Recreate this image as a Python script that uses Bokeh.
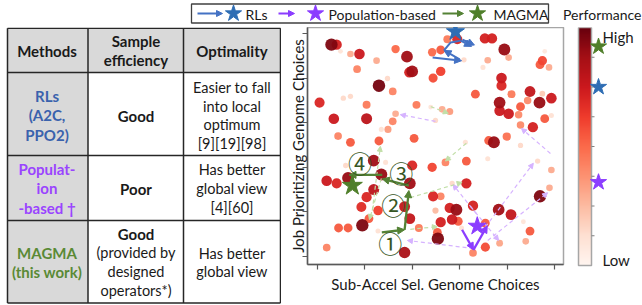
import numpy as np
from bokeh.plotting import figure
from bokeh.models import (ColumnDataSource, Range1d, FixedTicker, Arrow, NormalHead,
                          LinearColorMapper, LinearInterpolator)
from bokeh.layouts import column, row
from bokeh.palettes import Reds256
from bokeh.transform import transform
from bokeh.core.properties import value
from bokeh.embed import file_html
from bokeh.resources import INLINE

FONT = "Lato"

# ---------------- table content ----------------
table_headers = ["Methods", "Sample\nefficiency", "Optimality"]
table_methods = ["RLs\n(A2C,\nPPO2)", "Populat-\nion\n-based †", "MAGMA\n(this work)"]
method_colors = ["#3a62ad", "#9a44ff", "#5a8a35"]
table_efficiency = ["Good", "Poor", "Good"]
table_efficiency_note = ["", "", "(provided by\ndesigned\noperators*)"]
table_optimality = ["Easier to fall\ninto local\noptimum\n[9][19][98]",
                    "Has better\nglobal view\n[4][60]",
                    "Has better\nglobal view"]

# ---------------- scatter data (genome choice indices, performance 0..1) ----------------
pts_x = [0.41, 0.30, 0.49, 0.70, 0.89, 1.25, 1.65, 1.89, 0.84, 1.94, 2.00, 1.48, 1.30, 1.59, 0.05,
         0.55, 0.70, 1.04, 2.09, 2.39, 1.65, 0.35, 1.04, 1.59, 1.49, 1.35, 0.44, 0.70, 1.30, 2.04,
         2.95, 2.74, 2.42, 2.60, 3.53, 3.68, 3.94, 4.03, 3.59, 3.49, 4.79, 4.74, 4.69, 4.88, 3.09,
         2.60, 2.44, 3.88, 3.88, 3.33, 4.09, 4.48, 4.74, 4.93, 4.43, 4.68, 3.84, 3.84, 4.03, 4.28,
         4.24, 4.79, 4.93, 4.28, 4.54, 3.99, 3.72, 3.61, 2.63, 2.79, 2.49, 3.12, 4.28, 1.19, 0.60,
         1.44, 2.00, 0.65, 1.35, 0.20, 0.41, 1.19, 1.04, 0.93, 1.95, 1.84, 1.95, 1.28, 1.09, 0.95,
         0.45, 0.65, 0.20, 1.28, 1.84, 2.14, 3.59, 2.70, 3.14, 4.64, 4.93, 2.42, 3.14, 2.84, 4.89,
         4.69, 2.44, 2.60, 2.49, 2.79, 2.93, 2.84, 2.97, 3.28, 3.82, 4.08, 3.54, 3.04, 2.60, 2.53,
         2.54, 4.48, 4.34, 4.39, 3.84, 3.54, 3.28]
pts_y = [4.75, 4.75, 4.60, 4.54, 4.54, 4.39, 4.65, 4.48, 4.20, 4.13, 4.15, 3.99, 3.83, 3.70, 3.45,
         3.55, 3.59, 3.40, 3.40, 3.35, 3.20, 3.09, 3.09, 3.03, 2.85, 2.85, 2.70, 2.56, 2.59, 2.65,
         4.87, 4.87, 4.58, 4.63, 4.89, 4.89, 4.64, 4.46, 4.40, 4.24, 4.60, 4.39, 4.30, 4.24, 4.41,
         4.15, 4.00, 4.00, 3.83, 3.64, 3.64, 3.70, 3.65, 3.55, 3.50, 3.45, 3.45, 3.27, 3.20, 3.36,
         3.18, 3.09, 3.16, 2.95, 2.90, 2.69, 2.56, 2.60, 3.30, 3.25, 3.05, 2.56, 2.49, 2.15, 2.04,
         2.11, 2.04, 1.76, 1.84, 1.70, 1.64, 1.50, 1.33, 1.11, 1.64, 1.12, 0.85, 1.03, 0.85, 0.70,
         0.64, 0.64, 0.20, 0.57, 0.09, 0.64, 2.19, 2.11, 2.14, 2.14, 1.94, 2.00, 1.64, 1.64, 1.54,
         1.35, 1.35, 1.35, 1.03, 1.09, 1.05, 0.83, 0.79, 1.14, 1.05, 0.94, 0.75, 0.64, 0.77, 0.54,
         0.40, 0.57, 0.78, 0.34, 0.30, 0.21, 0.08]
pts_perf = [0.72, 0.95, 0.10, 0.30, 0.75, 0.30, 0.50, 0.88, 0.42, 0.72, 0.88, 0.15, 0.97, 0.42, 0.70,
            0.15, 0.15, 0.45, 0.45, 0.10, 0.30, 0.75, 0.80, 0.42, 0.35, 0.12, 0.42, 0.55, 0.55, 0.55,
            0.70, 0.45, 0.50, 0.55, 0.72, 0.72, 0.90, 0.30, 0.30, 0.12, 0.08, 0.60, 0.55, 0.30, 0.15,
            0.62, 0.58, 0.75, 0.70, 0.55, 0.45, 0.78, 0.20, 0.75, 0.40, 0.90, 0.88, 0.75, 0.75, 0.55,
            0.40, 0.55, 0.12, 0.40, 0.72, 0.48, 0.90, 0.55, 0.30, 0.35, 0.15, 0.12, 0.15, 0.88, 0.15,
            0.12, 0.70, 0.90, 0.90, 0.75, 0.70, 0.80, 0.70, 0.68, 0.88, 0.78, 0.78, 0.62, 0.55, 0.95,
            0.55, 0.55, 0.42, 0.12, 0.85, 0.45, 0.12, 0.42, 0.55, 0.15, 0.30, 0.60, 0.72, 0.15, 0.30,
            0.95, 0.70, 0.42, 0.25, 0.72, 0.90, 0.75, 0.55, 0.72, 0.88, 0.78, 0.55, 0.12, 0.72, 0.55,
            0.95, 0.55, 0.10, 0.30, 0.32, 0.58, 0.42]

# search trajectories (segments: start x/y -> end x/y)
rl_x0 = [2.43, 3.00, 3.02, 3.06]
rl_y0 = [4.46, 4.42, 4.84, 4.86]
rl_x1 = [3.04, 2.67, 3.25, 3.31]
rl_y1 = [4.39, 4.62, 4.71, 4.74]
rl_curve_x = [2.67, 2.81, 3.02]
rl_curve_y = [4.62, 4.80, 4.84]

pop_x0 = [3.05, 3.29]
pop_y0 = [0.60, 0.15]
pop_x1 = [3.29, 3.58]
pop_y1 = [0.15, 0.69]

magma_x0 = [1.36, 1.84, 1.93, 1.37]
magma_y0 = [0.54, 0.60, 1.59, 1.83]
magma_x1 = [1.84, 1.93, 1.37, 0.67]
magma_y1 = [0.60, 1.48, 1.74, 1.83]
step_labels = ["①", "②", "③", "④"]
step_x = [1.54, 1.60, 1.77, 0.90]
step_y = [0.32, 1.17, 1.89, 2.11]

pop_faint_x0 = [2.49, 3.29, 4.91, 3.54, 3.59, 3.35, 3.23]
pop_faint_y0 = [3.03, 0.18, 2.31, 0.66, 0.36, 0.96, 1.12]
pop_faint_x1 = [1.75, 1.90, 4.30, 4.55, 4.85, 2.86, 3.82]
pop_faint_y1 = [3.18, 0.36, 2.87, 2.09, 1.43, 1.61, 0.36]

magma_faint_x0 = [1.16, 1.35, 1.96, 1.96, 3.14, 2.39]
magma_faint_y0 = [1.03, 1.75, 1.32, 0.61, 2.54, 3.36]
magma_faint_x1 = [1.33, 1.10, 3.05, 2.53, 2.70, 2.76]
magma_faint_y1 = [2.47, 0.83, 1.66, 0.67, 2.14, 3.21]

# best solution of each method (x, y, performance)
star_names = ["RLs", "Population-based", "MAGMA"]
star_x = [2.91, 3.37, 0.74]
star_y = [5.04, 0.68, 1.59]
star_perf = [0.75, 0.35, 0.92]
star_colors = ["#2e6db4", "#8b3dff", "#4f7f2a"]
line_colors = ["#4472c4", "#8b3dff", "#548235"]

axis_ticks = [0, 1, 2, 3, 4, 5]
cbar_ticks = [0.125, 0.25, 0.375, 0.5, 0.625, 0.75, 0.875]

# ---------------- shared color mapping ----------------
palette = list(reversed(Reds256))
mapper = LinearColorMapper(palette=palette, low=0, high=1)
size_map = LinearInterpolator(x=[0, 1], y=[4, 12.8])


def bare(width, height, xr, yr, **kw):
    p = figure(width=width, height=height, x_range=xr, y_range=yr, output_backend="svg",
               toolbar_location=None, x_axis_type=None, y_axis_type=None, **kw)
    p.outline_line_color = None
    p.grid.visible = False
    p.frame_align = False
    return p


def add_arrows(p, x0, y0, x1, y1, color, width, dash="solid", head=7, alpha=1.0):
    src = ColumnDataSource(dict(x0=x0, y0=y0, x1=x1, y1=y1))
    end = NormalHead(size=head, fill_color=color, line_color=color, line_width=1,
                     fill_alpha=alpha, line_alpha=alpha) if head else None
    p.add_layout(Arrow(end=end, x_start="x0", y_start="y0", x_end="x1", y_end="y1",
                       source=src, line_color=color, line_width=width, line_dash=dash,
                       line_alpha=alpha))


# ---------------- legend strip (page y 0..27) ----------------
leg = bare(642, 27, Range1d(0, 642), Range1d(27, 0), min_border=0)
leg.quad(left=[191], right=[548], top=[3.5], bottom=[22.5], fill_color="white",
         line_color="#404040", line_width=1.3)
leg_arrow_x0 = [197, 278, 442]
leg_arrow_x1 = [222, 294, 463]
leg_star_x = [233, 315, 477]
leg_text_x = [245, 328, 493]
for i in range(3):
    add_arrows(leg, [leg_arrow_x0[i]], [13], [leg_arrow_x1[i]], [13], line_colors[i], 1.8, head=6)
leg.scatter(x=leg_star_x, y=[13, 13, 13], marker="star", size=17, fill_color=star_colors,
            line_color=star_colors)
leg.text(x=leg_text_x, y=[13.5, 13.5, 13.5], text=star_names, text_font=value(FONT),
         text_font_size="14px", text_baseline="middle", text_align="left", text_color="#1a1a1a")
leg.text(x=[641], y=[13.5], text=["Performance"], text_font=value(FONT), text_font_size="14px",
         text_baseline="middle", text_align="right", text_color="#1a1a1a")

# ---------------- table (page x 0..281, y 27..305; fig y = 305 - page y) ----------------
tab = bare(281, 278, Range1d(0, 281), Range1d(0, 278), min_border=0)
col_edges = [7, 87.5, 183, 280]
row_edges = [277.2, 233, 150, 85, 2.5]
tab.quad(left=[col_edges[0]], right=[col_edges[3]], top=[row_edges[0]], bottom=[row_edges[1]],
         fill_color="#d9d9d9", line_color=None)
tab.quad(left=[col_edges[0]], right=[col_edges[1]], top=[row_edges[1]], bottom=[row_edges[4]],
         fill_color="#d9d9d9", line_color=None)
tab.segment(x0=col_edges, x1=col_edges, y0=[row_edges[0]] * 4, y1=[row_edges[4]] * 4,
            line_color="#262626", line_width=1.5)
tab.segment(x0=[col_edges[0]] * 5, x1=[col_edges[3]] * 5, y0=row_edges, y1=row_edges,
            line_color="#262626", line_width=1.5)
col_c = [46.5, 135.5, 231.5]
row_c = [255, 190, 117, 43]
bstyle = dict(text_font=value(FONT), text_font_size="15px", text_align="center",
              text_baseline="middle", text_line_height=1.06, text_font_style="bold")
nstyle = dict(text_font=value(FONT), text_font_size="14.5px", text_align="center",
              text_baseline="middle", text_line_height=1.09, text_color="#1a1a1a")
tab.text(x=col_c, y=[row_c[0]] * 3, text=table_headers, text_color="#1a1a1a", **bstyle)
tab.text(x=[col_c[0]] * 3, y=row_c[1:], text=table_methods, text_color=method_colors, **bstyle)
tab.text(x=[col_c[1]] * 3, y=[row_c[1], row_c[2], 72], text=table_efficiency,
         text_color="#1a1a1a", **bstyle)
tab.text(x=[col_c[1]], y=[34], text=[table_efficiency_note[2]], **nstyle)
tab.text(x=[col_c[2]] * 3, y=row_c[1:], text=table_optimality, **nstyle)

# ---------------- scatter (page x 281..570, y 27..305) ----------------
order = np.argsort(np.array(pts_perf), kind="stable")
src = ColumnDataSource(dict(x=np.array(pts_x)[order], y=np.array(pts_y)[order],
                            perf=np.array(pts_perf)[order]))
p = figure(width=289, height=278, x_range=Range1d(-0.204, 5.185), y_range=Range1d(-0.179, 5.134),
           output_backend="svg", toolbar_location=None,
           min_border_left=26, min_border_right=7, min_border_top=0, min_border_bottom=41)
p.frame_align = False
p.grid.visible = False
p.outline_line_color = "#a6a6a6"
p.outline_line_width = 1.5
for ax in (p.xaxis, p.yaxis):
    ax.ticker = FixedTicker(ticks=axis_ticks)
    ax.major_label_text_font_size = "1px"
    ax.major_label_text_color = None
    ax.major_label_standoff = 0
    ax.major_tick_out = 5
    ax.major_tick_in = 0
    ax.minor_tick_out = 0
    ax.minor_tick_in = 0
    ax.axis_line_color = "#595959"
    ax.axis_line_width = 1.5
    ax.major_tick_line_color = "#595959"
    ax.major_tick_line_width = 1.2
    ax.axis_label_text_font = FONT
    ax.axis_label_text_font_size = "15px"
    ax.axis_label_text_font_style = "normal"
    ax.axis_label_text_color = "#1a1a1a"
p.xaxis.axis_label = "Sub-Accel Sel. Genome Choices"
p.yaxis.axis_label = "Job Prioritizing Genome Choices"
p.xaxis.axis_label_standoff = 5
p.yaxis.axis_label_standoff = -4

p.scatter("x", "y", source=src, size=transform("perf", size_map),
          fill_color=transform("perf", mapper), line_color=None, fill_alpha=0.95)

add_arrows(p, pop_faint_x0, pop_faint_y0, pop_faint_x1, pop_faint_y1, "#d6b3ff", 1.2,
           dash="4 3", head=5)
add_arrows(p, magma_faint_x0, magma_faint_y0, magma_faint_x1, magma_faint_y1, "#c2dfa8", 1.2,
           dash="4 3", head=5)
p.line(rl_curve_x, rl_curve_y, line_color=line_colors[0], line_width=2)
add_arrows(p, rl_x0, rl_y0, rl_x1, rl_y1, line_colors[0], 2, head=7)
add_arrows(p, pop_x0, pop_y0, pop_x1, pop_y1, line_colors[1], 2.3, head=7)
add_arrows(p, magma_x0, magma_y0, magma_x1, magma_y1, line_colors[2], 2.3, head=7)

stars = p.scatter(x=star_x, y=star_y, marker="star", size=[19, 19, 21], fill_color=star_colors,
                  line_color=star_colors)
stars.level = "overlay"
lab = p.text(x=step_x, y=step_y, text=step_labels, text_font=value("Noto Sans CJK JP"),
             text_font_size="24px", text_align="center", text_baseline="middle",
             text_color="#375623")
lab.level = "overlay"

# ---------------- colour bar (page x 570..642, y 27..305) ----------------
cb = bare(72, 278, Range1d(0, 72), Range1d(-0.168, 1.0), min_border=0)
grad = np.linspace(0, 1, 256).reshape(256, 1)
cb.image(image=[grad], x=8, y=0, dw=13, dh=1, color_mapper=mapper)
cb.quad(left=[8], right=[21], bottom=[0], top=[1], fill_color=None, line_color="#a6a6a6",
        line_width=1.5)
cb.segment(x0=[21] * len(cbar_ticks), x1=[24] * len(cbar_ticks), y0=cbar_ticks, y1=cbar_ticks,
           line_color="#808080", line_width=1)
cb.scatter(x=[28, 28, 28], y=star_perf, marker="star", size=17, fill_color=star_colors,
           line_color=star_colors)
cb.text(x=[32, 32], y=[0.96, 0.022], text=["High", "Low"], text_font=value(FONT),
        text_font_size="15px", text_align="left", text_baseline="middle", text_color="#1a1a1a")

layout = column(leg, row(tab, p, cb))
open("out.html", "w").write(file_html(layout, INLINE))
